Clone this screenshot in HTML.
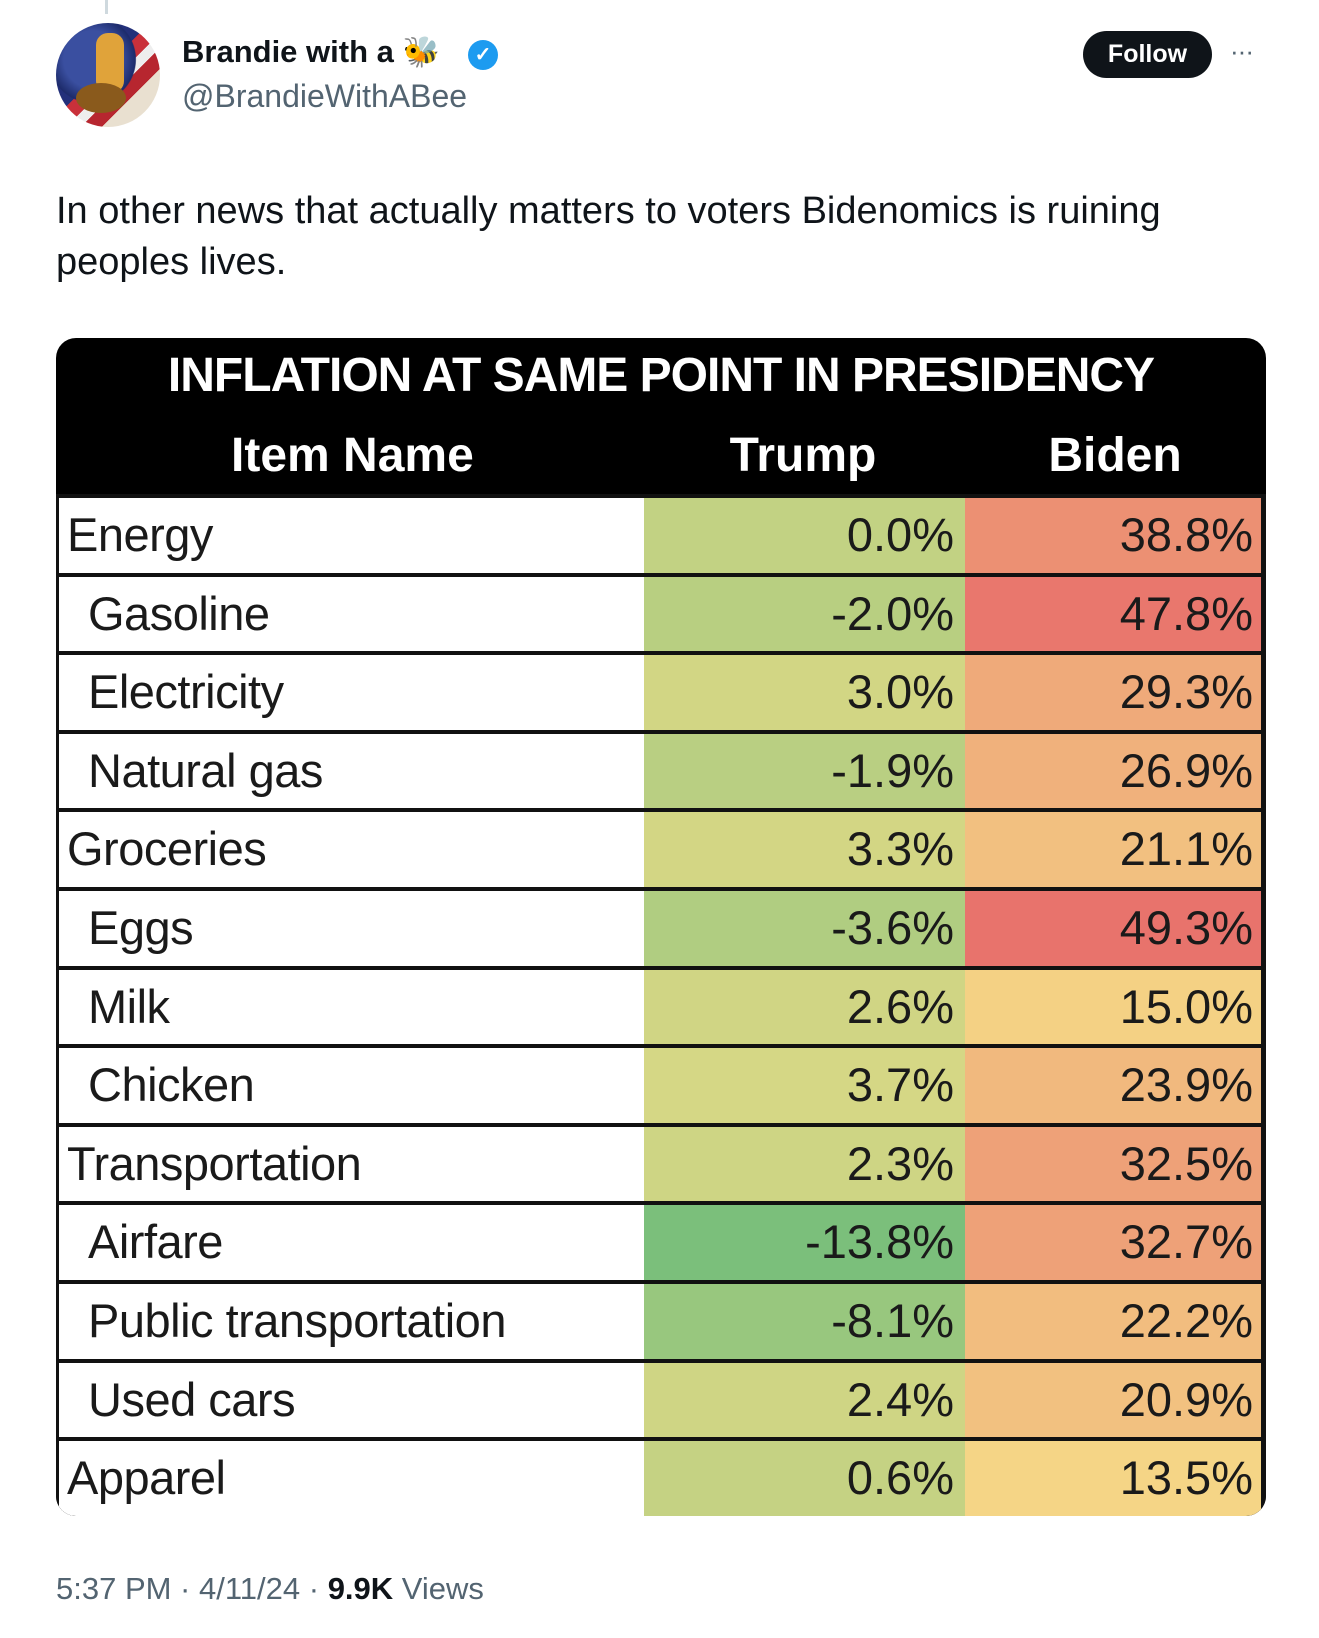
<!DOCTYPE html>
<html><head><meta charset="utf-8">
<style>
body{margin:0;width:1319px;height:1638px;background:#fff;position:relative;overflow:hidden;font-family:"Liberation Sans",sans-serif;}
.abs{position:absolute;}
</style></head><body>
<div class="abs" style="left:105px;top:0;width:3px;height:14px;background:#cfd9de"></div>
<div class="abs" style="left:56px;top:23px;width:104px;height:104px;border-radius:50%;background:radial-gradient(circle at 35% 35%,#3a4fa0 0 30%,#1d2b6b 45%,transparent 46%),linear-gradient(135deg,#23307a 0 45%,#c9303a 45% 55%,#eee 55% 62%,#b7262f 62% 72%,#e9e0d0 72%);overflow:hidden">
 <div class="abs" style="left:40px;top:10px;width:28px;height:60px;border-radius:12px;background:#e0a33a"></div>
 <div class="abs" style="left:20px;top:60px;width:50px;height:30px;border-radius:50%;background:#8a5a1c"></div>
</div>
<div class="abs" style="left:182px;top:34px;font-size:31px;font-weight:bold;color:#0f1419;white-space:nowrap">Brandie with a <span style="font-size:30px">🐝</span></div>
<div class="abs" style="left:468px;top:40px;width:30px;height:30px;border-radius:50%;background:#1d9bf0;color:#fff;font-size:20px;font-weight:bold;text-align:center;line-height:30px">✓</div>
<div class="abs" style="left:182px;top:78px;font-size:32px;color:#536471">@BrandieWithABee</div>
<div class="abs" style="left:1083px;top:31px;width:129px;height:47px;border-radius:24px;background:#0f1419;color:#fff;font-size:25px;font-weight:bold;text-align:center;line-height:47px">Follow</div>
<div class="abs" style="left:1230px;top:36px;font-size:26px;color:#536471;letter-spacing:-1px">···</div>
<div class="abs" style="left:56px;top:186px;width:1185px;font-size:38px;line-height:51px;color:#0f1419">In other news that actually matters to voters Bidenomics is ruining peoples lives.</div>

<div class="abs" id="tbl" style="left:56px;top:338px;width:1210px;height:1178px;border-radius:20px;overflow:hidden;background:#000">
 <div class="abs" style="left:0;top:10px;width:1210px;text-align:center;color:#fff;font-weight:bold;font-size:48px;letter-spacing:-1px;white-space:nowrap">INFLATION AT SAME POINT IN PRESIDENCY</div>
 <div class="abs" style="left:175px;top:90px;width:200px;text-align:center;color:#fff;font-weight:bold;font-size:48px;white-space:nowrap">Item Name</div>
 <div class="abs" style="left:647px;top:90px;width:200px;text-align:center;color:#fff;font-weight:bold;font-size:48px">Trump</div>
 <div class="abs" style="left:959px;top:90px;width:200px;text-align:center;color:#fff;font-weight:bold;font-size:48px">Biden</div>
</div>

<div class="abs" style="left:56px;top:1571px;font-size:31px;color:#536471;white-space:nowrap">5:37 PM · 4/11/24 · <b style="color:#0f1419">9.9K</b> Views</div>

<script>
const items=["Energy","Gasoline","Electricity","Natural gas","Groceries","Eggs","Milk","Chicken","Transportation","Airfare","Public transportation","Used cars","Apparel"];
const isSub=[false,true,true,true,false,true,true,true,false,true,true,true,false];
const trump=[0.0,-2.0,3.0,-1.9,3.3,-3.6,2.6,3.7,2.3,-13.8,-8.1,2.4,0.6];
const biden=[38.8,47.8,29.3,26.9,21.1,49.3,15.0,23.9,32.5,32.7,22.2,20.9,13.5];

const tbl=document.getElementById('tbl');
const G=[123,191,123],Y=[246,223,136],R=[232,115,108];
const vmin=-13.8,vmid=10,vmax=49.3;
function mix(a,b,t){return 'rgb('+a.map((v,i)=>Math.round(v+(b[i]-v)*t)).join(',')+')';}
function color(v){ if(v<=vmid) return mix(G,Y,Math.max(0,(v-vmin)/(vmid-vmin))); return mix(Y,R,Math.min(1,(v-vmid)/(vmax-vmid))); }
const top0=156,rowH=78.6;
items.forEach((name,i)=>{
  const row=document.createElement('div');
  
  
  row.style.cssText=`position:absolute;left:0;top:${top0+i*rowH}px;width:1210px;height:${rowH}px;background:#111;`;
  const c1=document.createElement('div');
  
  
  c1.style.cssText=`position:absolute;left:3px;top:4px;width:585px;height:${rowH-4}px;background:#fff;font-size:47px;line-height:${rowH-4}px;padding-left:${isSub[i]?29:8}px;box-sizing:border-box;color:#1a1a1a;white-space:nowrap;letter-spacing:-0.5px`;
  c1.textContent=name;
  const c2=document.createElement('div');
  
  
  c2.style.cssText=`position:absolute;left:588px;top:4px;width:321px;height:${rowH-4}px;background:${color(trump[i])};font-size:47px;line-height:${rowH-4}px;text-align:right;padding-right:11px;box-sizing:border-box;color:#1a1a1a`;
  c2.textContent=trump[i].toFixed(1)+'%';
  const c3=document.createElement('div');
  
  
  c3.style.cssText=`position:absolute;left:909px;top:4px;width:296px;height:${rowH-4}px;background:${color(biden[i])};font-size:47px;line-height:${rowH-4}px;text-align:right;padding-right:8px;box-sizing:border-box;color:#1a1a1a`;
  c3.textContent=biden[i].toFixed(1)+'%';
  row.appendChild(c1);row.appendChild(c2);row.appendChild(c3);
  tbl.appendChild(row);
});
</script>
</body></html>
